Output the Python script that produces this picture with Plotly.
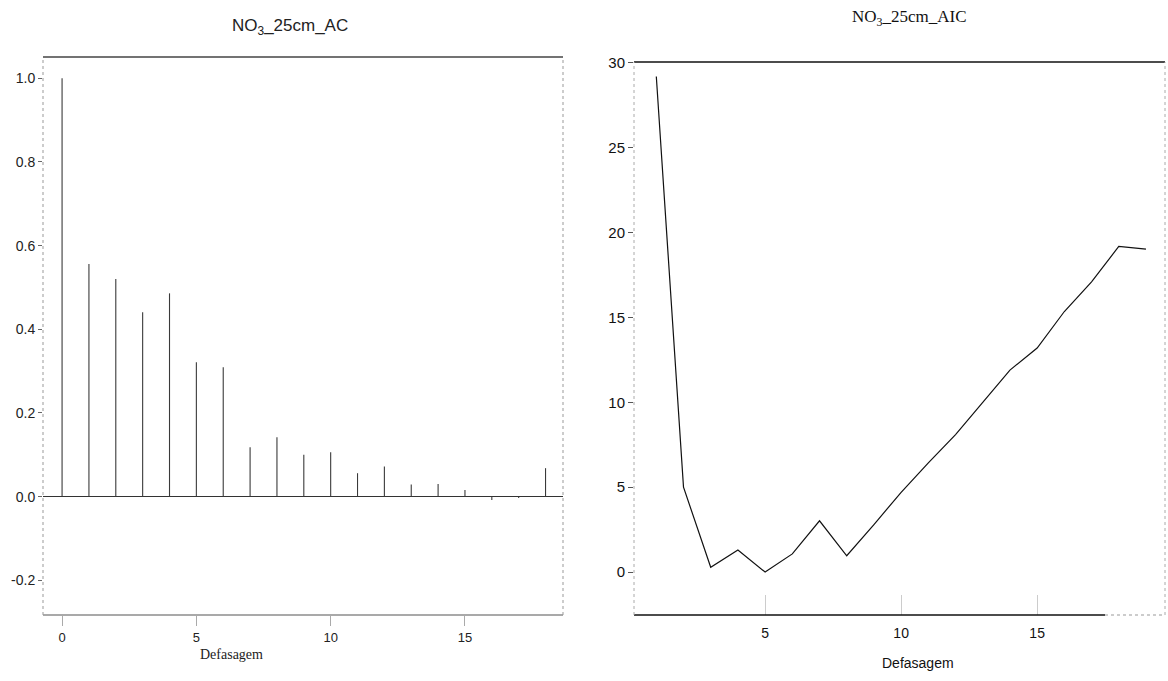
import plotly.graph_objects as go

# Autocorrelation of NO3 at 25 cm, lags 0..18
acf_lags = list(range(0, 19))
acf_values = [1.0, 0.556, 0.52, 0.441, 0.486, 0.321, 0.309, 0.118, 0.142, 0.10,
              0.106, 0.056, 0.072, 0.029, 0.030, 0.016, -0.008, -0.003, 0.068]

# AIC by lag order, lags 1..19
aic_lags = list(range(1, 20))
aic_values = [29.2, 5.0, 0.28, 1.3, 0.0, 1.07, 3.02, 0.96, 2.8, 4.7,
              6.43, 8.1, 10.0, 11.9, 13.2, 15.35, 17.1, 19.18, 19.02]

acf_yticks = [1.0, 0.8, 0.6, 0.4, 0.2, 0.0, -0.2]
aic_yticks = [0, 5, 10, 15, 20, 25, 30]
x_ticks = [0, 5, 10, 15]

W, H = 1168, 681

def px_x(p):
    return p / W

def px_y(p):
    return 1 - p / H

# stems as vertical segments from 0 to each value
stem_x, stem_y = [], []
for lag, v in zip(acf_lags, acf_values):
    stem_x += [lag, lag, None]
    stem_y += [0, v, None]

fig = go.Figure()
fig.add_trace(go.Scatter(x=stem_x, y=stem_y, mode="lines",
                         line=dict(color="#3a3a3a", width=1.1),
                         xaxis="x", yaxis="y", showlegend=False, hoverinfo="skip"))
fig.add_trace(go.Scatter(x=aic_lags, y=aic_values, mode="lines",
                         line=dict(color="#111111", width=1.2),
                         xaxis="x2", yaxis="y2", showlegend=False))

arial = "Liberation Sans, Arial, sans-serif"
times = "Liberation Serif, Times New Roman, serif"

fig.update_layout(
    width=W, height=H,
    margin=dict(l=0, r=0, t=0, b=0),
    paper_bgcolor="white", plot_bgcolor="white",
    showlegend=False,
    xaxis=dict(domain=[px_x(43), px_x(563)], range=[-0.71, 18.65],
               tickvals=x_ticks, ticks="outside", ticklen=10, tickcolor="#aaaaaa",
               tickfont=dict(family=arial, size=13, color="#222"),
               showgrid=False, zeroline=False, showline=False, automargin=False),
    yaxis=dict(domain=[px_y(615), px_y(57)], range=[-0.283, 1.051],
               tickvals=acf_yticks, ticktext=[f"{v:.1f}" for v in acf_yticks],
               ticks="outside", ticklen=4, tickcolor="#666",
               tickfont=dict(family=arial, size=14, color="#222"),
               showgrid=False, zeroline=True, zerolinecolor="#333", zerolinewidth=1,
               showline=False, automargin=False),
    xaxis2=dict(domain=[px_x(634), px_x(1165)], range=[0.18, 19.7], anchor="y2",
                tickvals=x_ticks[1:], ticks="inside", ticklen=20, tickcolor="#cccccc",
                ticklabelstandoff=8,
                tickfont=dict(family=arial, size=14, color="#111"),
                showgrid=False, zeroline=False, showline=False, automargin=False),
    yaxis2=dict(domain=[px_y(615), px_y(62)], range=[-2.53, 30.05], anchor="x2",
                tickvals=aic_yticks, ticks="outside", ticklen=5, tickcolor="#555",
                tickfont=dict(family=arial, size=15, color="#111"),
                showgrid=False, zeroline=False, showline=False, automargin=False),
)

shapes = []
# frame of the autocorrelation panel
shapes.append(dict(type="line", xref="x domain", yref="y domain", x0=0, x1=1, y0=1, y1=1,
                   line=dict(color="#444", width=1.5)))
shapes.append(dict(type="line", xref="x domain", yref="y domain", x0=0, x1=1, y0=0, y1=0,
                   line=dict(color="#555", width=1.2)))
shapes.append(dict(type="line", xref="x domain", yref="y domain", x0=0, x1=0, y0=0, y1=1,
                   line=dict(color="#999", width=1, dash="dot")))
shapes.append(dict(type="line", xref="x domain", yref="y domain", x0=1, x1=1, y0=0, y1=1,
                   line=dict(color="#999", width=1, dash="dot")))
# frame of the AIC panel
shapes.append(dict(type="line", xref="x2 domain", yref="y2 domain", x0=0, x1=1, y0=1, y1=1,
                   line=dict(color="#111", width=1.5)))
shapes.append(dict(type="line", xref="x2 domain", yref="y2 domain", x0=0, x1=0.887, y0=0, y1=0,
                   line=dict(color="#111", width=1.5)))
shapes.append(dict(type="line", xref="x2 domain", yref="y2 domain", x0=0.887, x1=1, y0=0, y1=0,
                   line=dict(color="#999", width=1, dash="dot")))
shapes.append(dict(type="line", xref="x2 domain", yref="y2 domain", x0=0, x1=0, y0=0, y1=1,
                   line=dict(color="#aaa", width=1, dash="dot")))
shapes.append(dict(type="line", xref="x2 domain", yref="y2 domain", x0=1, x1=1, y0=0, y1=1,
                   line=dict(color="#aaa", width=1, dash="dot")))
fig.update_layout(shapes=shapes)

annotations = [
    dict(text="NO<sub>3</sub>_25cm_AC", x=px_x(290), y=px_y(27), xref="paper", yref="paper",
         xanchor="center", yanchor="middle",
         showarrow=False, font=dict(family=arial, size=17, color="#222")),
    dict(text="NO<sub>3</sub>_25cm_AIC", x=px_x(910), y=px_y(18), xref="paper", yref="paper",
         xanchor="center", yanchor="middle",
         showarrow=False, font=dict(family=times, size=17, color="#111")),
    dict(text="Defasagem", x=px_x(231), y=px_y(654), xref="paper", yref="paper",
         xanchor="center", yanchor="middle",
         showarrow=False, font=dict(family=times, size=14, color="#222")),
    dict(text="Defasagem", x=px_x(918), y=px_y(663), xref="paper", yref="paper",
         xanchor="center", yanchor="middle",
         showarrow=False, font=dict(family=arial, size=14, color="#111")),
]
fig.update_layout(annotations=annotations)

fig.write_html("out.html")
